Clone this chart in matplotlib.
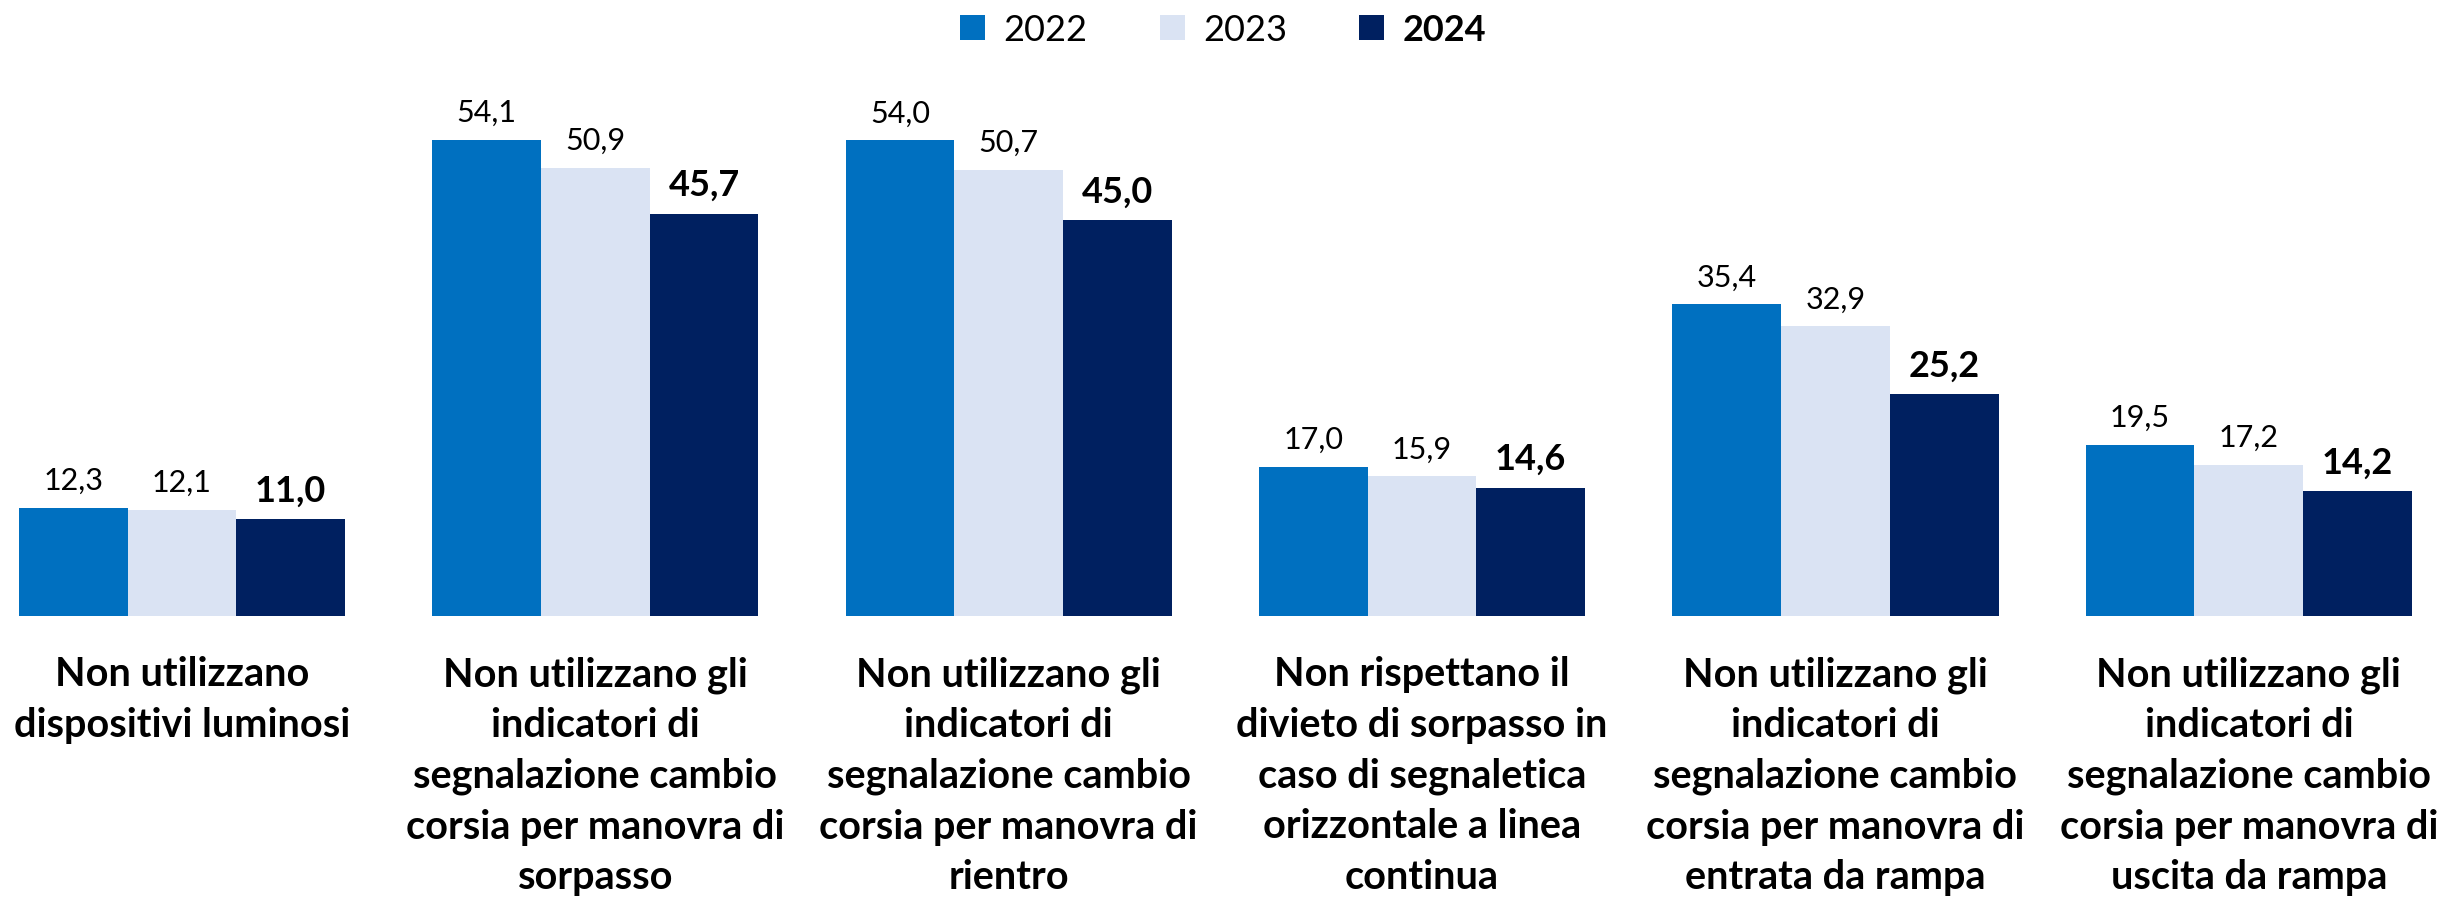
import matplotlib
matplotlib.use("Agg")
import matplotlib.pyplot as plt
import numpy as np

plt.rcParams['font.family'] = ['Lato', 'DejaVu Sans']

categories = [
    "Non utilizzano\ndispositivi luminosi",
    "Non utilizzano gli\nindicatori di\nsegnalazione cambio\ncorsia per manovra di\nsorpasso",
    "Non utilizzano gli\nindicatori di\nsegnalazione cambio\ncorsia per manovra di\nrientro",
    "Non rispettano il\ndivieto di sorpasso in\ncaso di segnaletica\norizzontale a linea\ncontinua",
    "Non utilizzano gli\nindicatori di\nsegnalazione cambio\ncorsia per manovra di\nentrata da rampa",
    "Non utilizzano gli\nindicatori di\nsegnalazione cambio\ncorsia per manovra di\nuscita da rampa",
]
years = ["2022", "2023", "2024"]
v2022 = [12.3, 54.1, 54.0, 17.0, 35.4, 19.5]
v2023 = [12.1, 50.9, 50.7, 15.9, 32.9, 17.2]
v2024 = [11.0, 45.7, 45.0, 14.6, 25.2, 14.2]
series = [v2022, v2023, v2024]
colors = ["#0070C0", "#DAE3F3", "#002060"]

fig = plt.figure(figsize=(24.46, 9.04), dpi=100)
ax = fig.add_axes([0, 0.317, 1, 0.585])

x = np.arange(len(categories))
bw = 0.263
for i, (vals, c) in enumerate(zip(series, colors)):
    pos = x + (i - 1) * bw
    bars = ax.bar(pos, vals, width=bw, color=c, label=years[i])
    for xp, v in zip(pos, vals):
        lbl = f"{v:.1f}".replace(".", ",")
        if i == 2:
            ax.annotate(lbl, (xp, v), xytext=(0, 9), textcoords="offset points",
                        ha="center", va="bottom", fontsize=26, fontweight="bold")
        else:
            ax.annotate(lbl, (xp, v), xytext=(0, 10), textcoords="offset points",
                        ha="center", va="bottom", fontsize=22)

ax.set_xlim(-0.44, 5.477)
ax.set_ylim(0, 60)
ax.set_xticks(x)
ax.set_xticklabels(categories, fontsize=28.5, fontweight="bold", linespacing=1.45, va="top")
ax.tick_params(axis="x", length=0, pad=28)
ax.set_yticks([])
for s in ax.spines.values():
    s.set_visible(False)

leg = fig.legend(loc="upper center", bbox_to_anchor=(0.5, 1.02), ncol=3, frameon=False,
                 fontsize=26, handlelength=0.7, handleheight=0.7, columnspacing=2.0,
                 handletextpad=0.5)
leg.get_texts()[2].set_fontweight("bold")

fig.savefig("out.png", dpi=100)
